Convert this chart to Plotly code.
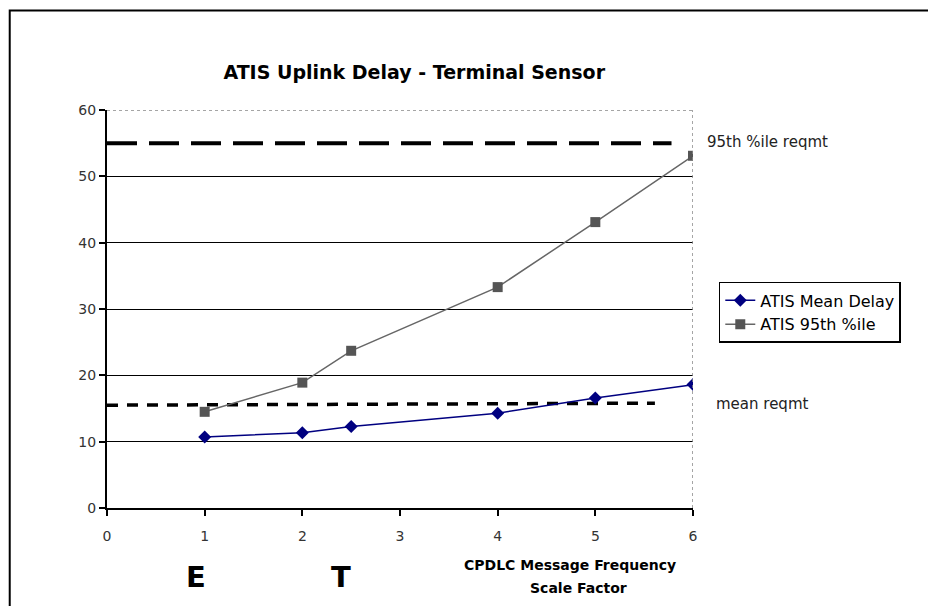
import plotly.graph_objects as go

scale_factor = [1, 2, 2.5, 4, 5, 6]
mean_delay = [10.7, 11.35, 12.3, 14.3, 16.6, 18.6]
p95_delay = [14.5, 18.9, 23.7, 33.3, 43.1, 53.1]

req95_x = [0, 5.78]
req95_y = [55, 55]
reqmean_x = [0, 5.61]
reqmean_y = [15.5, 15.8]

x_ticks = [0, 1, 2, 3, 4, 5, 6]
y_ticks = [0, 10, 20, 30, 40, 50, 60]

FONT = "DejaVu Sans"

fig = go.Figure()

fig.add_trace(go.Scatter(x=req95_x, y=req95_y, mode="lines",
                         line=dict(color="black", width=4, dash="30px,12px"),
                         showlegend=False, hoverinfo="skip"))
fig.add_trace(go.Scatter(x=reqmean_x, y=reqmean_y, mode="lines",
                         line=dict(color="black", width=3.5, dash="11px,9px"),
                         showlegend=False, hoverinfo="skip"))
fig.add_trace(go.Scatter(x=scale_factor, y=mean_delay, mode="lines+markers",
                         name="ATIS Mean Delay",
                         line=dict(color="#000080", width=1.5),
                         marker=dict(symbol="diamond", size=10, color="#000080")))
fig.add_trace(go.Scatter(x=scale_factor, y=p95_delay, mode="lines+markers",
                         name="ATIS 95th %ile",
                         line=dict(color="#666666", width=1.5),
                         marker=dict(symbol="square", size=10, color="#555555")))

# outer frame, top and right plot edges
fig.add_shape(type="rect", xref="paper", yref="paper",
              x0=-0.166, x1=1.6, y0=-0.6, y1=1.25,
              line=dict(color="black", width=2))
fig.add_shape(type="line", xref="x", yref="y", x0=0, x1=6, y0=60, y1=60,
              line=dict(color="#888888", width=1.5, dash="dot"))
fig.add_shape(type="line", xref="x", yref="y", x0=6, x1=6, y0=0, y1=60,
              line=dict(color="#888888", width=1.5, dash="dot"))

fig.update_xaxes(range=[0, 6], tickvals=x_ticks, showgrid=False, zeroline=False,
                 showline=True, linecolor="black", linewidth=2,
                 ticks="outside", ticklen=6, tickwidth=2, tickcolor="black",
                 ticklabelstandoff=8,
                 tickfont=dict(family=FONT, size=14, color="#333333"))
fig.update_yaxes(range=[0, 60], tickvals=y_ticks, showgrid=True,
                 gridcolor="black", gridwidth=1, zeroline=False,
                 showline=True, linecolor="black", linewidth=2,
                 ticks="outside", ticklen=6, tickwidth=2, tickcolor="black",
                 ticklabelstandoff=0,
                 tickfont=dict(family=FONT, size=14, color="#333333"))

annos = [
    dict(x=1.02, y=55.2, xref="paper", yref="y", text="95th %ile reqmt",
         xanchor="left", yanchor="middle", font=dict(family=FONT, size=15, color="#222222")),
    dict(x=1.036, y=15.7, xref="paper", yref="y", text="mean reqmt",
         xanchor="left", yanchor="middle", font=dict(family=FONT, size=15, color="#222222")),
    dict(x=0.152, y=-0.173, xref="paper", yref="paper", text="<b>E</b>",
         xanchor="center", yanchor="middle", font=dict(family=FONT, size=29, color="black")),
    dict(x=0.399, y=-0.173, xref="paper", yref="paper", text="<b>T</b>",
         xanchor="center", yanchor="middle", font=dict(family=FONT, size=29, color="black")),
    dict(x=0.79, y=-0.143, xref="paper", yref="paper", text="<b>CPDLC Message Frequency</b>",
         xanchor="center", yanchor="middle", font=dict(family=FONT, size=14, color="black")),
    dict(x=0.805, y=-0.201, xref="paper", yref="paper", text="<b>Scale Factor</b>",
         xanchor="center", yanchor="middle", font=dict(family=FONT, size=14, color="black")),
]
for a in annos:
    a["showarrow"] = False

fig.update_layout(
    width=936, height=606,
    margin=dict(l=99, r=251, t=102, b=106),
    paper_bgcolor="white", plot_bgcolor="white",
    title=dict(text="<b>ATIS Uplink Delay - Terminal Sensor</b>", x=0.434, xanchor="center",
               y=0.894, yanchor="middle",
               font=dict(family=FONT, size=19, color="black")),
    legend=dict(x=1.044, y=0.568, xanchor="left", yanchor="top",
                bordercolor="black", borderwidth=1.5, bgcolor="white",
                font=dict(family=FONT, size=16, color="black"),
                tracegroupgap=0, itemwidth=30),
    annotations=annos,
)

fig.write_html("out.html")
